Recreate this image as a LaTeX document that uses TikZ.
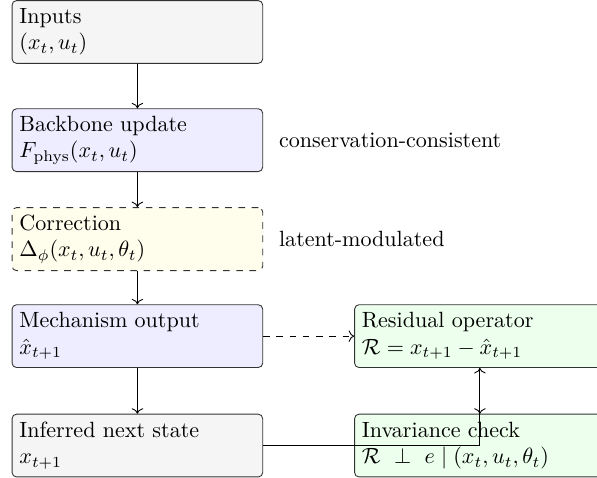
\documentclass[tikz,border=0pt]{standalone}
\usepackage{tikz}
\usetikzlibrary{arrows.meta,positioning}

\begin{document}
\begin{tikzpicture}[
  node distance=7.3mm,
  box/.style={draw=black!80, rounded corners=2pt, align=left, text width=3.76cm, minimum height=1cm},
  arrow/.style={->}
]
\useasboundingbox (-62.3pt,14.5pt) rectangle (208.4pt,-201.8pt);
\node[box, fill=gray!8] (in) {Inputs\\$(x_t,u_t)$};
\node[box, fill=blue!7, below=7.1mm of in] (bb) {Backbone update\\$F_{\mathrm{phys}}(x_t,u_t)$};
\node[box, fill=yellow!7, dashed, below=5.6mm of bb] (corr) {Correction\\$\Delta_\phi(x_t,u_t,\theta_t)$};
\node[box, fill=blue!7, below=5.3mm of corr] (mech) {Mechanism output\\$\hat{x}_{t+1}$};
\node[box, fill=gray!8, below=of mech] (inf) {Inferred next state\\$x_{t+1}$};
\node[box, fill=green!7, right=1.45cm of mech] (res) {Residual operator\\$\mathcal{R} = x_{t+1} - \hat{x}_{t+1}$};
\node[box, fill=green!7, right=1.45cm of inf] (inv) {Invariance check\\$\mathcal{R}\ \perp\ e \mid (x_t,u_t,\theta_t)$};
\node[right=1.3mm of bb] (cons) {conservation-consistent};
\node[right=1.3mm of corr] (lat) {latent-modulated};
\draw[arrow] (in) -- (bb);
\draw[arrow] (bb) -- (corr);
\draw[arrow] (corr) -- (mech);
\draw[arrow] (mech) -- (inf);
\draw[arrow, dashed] (mech) -- (res);
\draw[arrow] (inf) -| (res);
\draw[arrow] (res) -- (inv);
\end{tikzpicture}
\end{document}
